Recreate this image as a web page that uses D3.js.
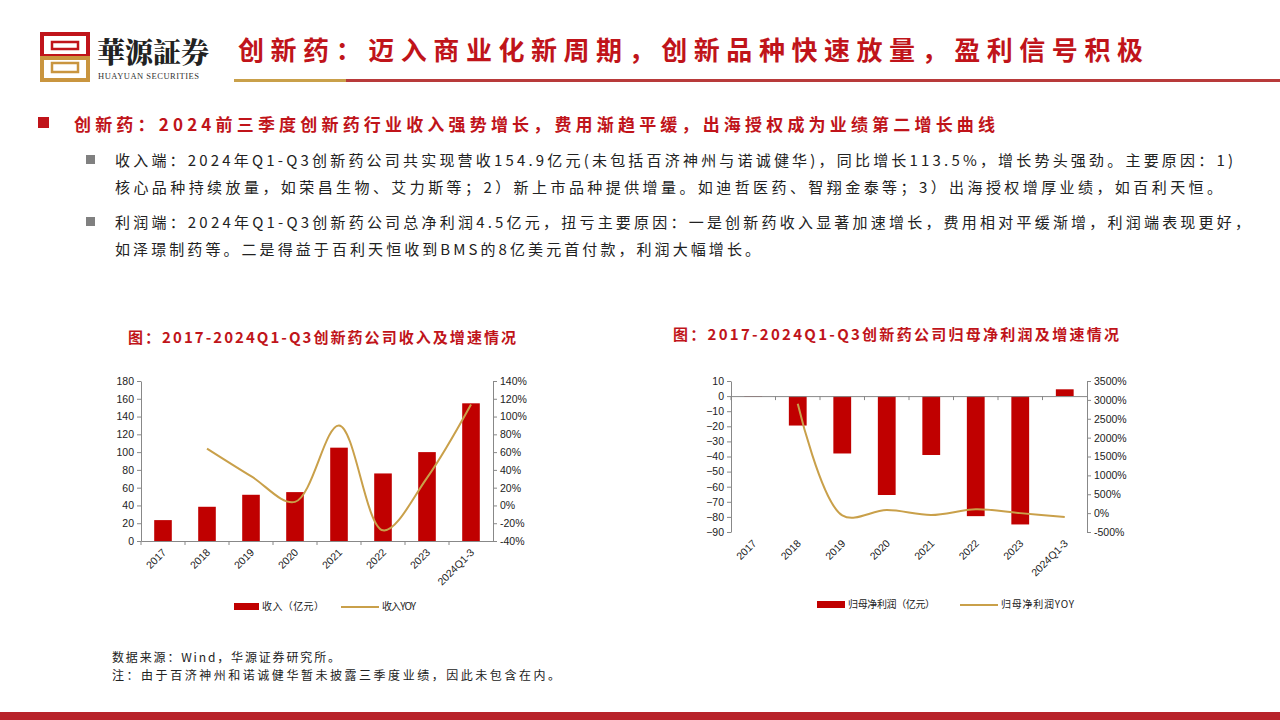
<!DOCTYPE html><html><head><meta charset="utf-8">
<script src="https://cdn.jsdelivr.net/npm/d3@7"></script>
<style>body{margin:0;background:#fff}svg{display:block}</style></head><body>
<svg id="c" width="1280" height="720"></svg>
<script>
const categories=["2017","2018","2019","2020","2021","2022","2023","2024Q1-3"];
const revenue=[23.5,38.5,52,55,105,76,100,154.9];
const revenueYoy=[null,64,33,4,90,-28,31,113.5];
const profit=[-0.5,-19.5,-38,-65.5,-39,-79.5,-85,4.5];
const profitYoy=[null,2900,-60,80,-50,100,0,-100];
const revTicksL=[0,20,40,60,80,100,120,140,160,180];
const revTicksR=[-40,-20,0,20,40,60,80,100,120,140];
const proTicksL=[-90,-80,-70,-60,-50,-40,-30,-20,-10,0,10];
const proTicksR=[-500,0,500,1000,1500,2000,2500,3000,3500];

const RED="#C00000",GOLD="#C9A04A",TR="#C0141A";
const svg=d3.select("#c");
const F="'Noto Sans CJK SC',sans-serif";
function T(x,y,s,size,fill,len,weight){const t=svg.append("text").attr("x",x).attr("y",y).attr("font-family",F).attr("font-size",size).attr("fill",fill).attr("font-weight",weight||400).text(s);if(len)t.attr("textLength",len).attr("lengthAdjust","spacing");return t;}
const lg=svg.append("g");
lg.append("rect").attr("x",42).attr("y",34).attr("width",46).attr("height",22).attr("fill","none").attr("stroke",TR).attr("stroke-width",4);
lg.append("rect").attr("x",42).attr("y",58).attr("width",46).attr("height",22).attr("fill","none").attr("stroke","#C9953F").attr("stroke-width",4);
lg.append("rect").attr("x",52).attr("y",42).attr("width",26).attr("height",7).attr("fill","none").attr("stroke",TR).attr("stroke-width",2.5);
lg.append("rect").attr("x",52).attr("y",63).attr("width",26).attr("height",9).attr("fill","none").attr("stroke","#C9953F").attr("stroke-width",2.5);
svg.append("text").attr("x",97).attr("y",63).attr("font-family","'Noto Serif CJK SC','Noto Sans CJK SC'").attr("font-weight",900).attr("font-size",28).attr("fill","#222").text("華源証券");
svg.append("text").attr("x",98).attr("y",79).attr("font-family","'Liberation Serif',serif").attr("font-size",8.5).attr("fill","#333").attr("letter-spacing",0.5).text("HUAYUAN SECURITIES");
T(238,60,"创新药：迈入商业化新周期，创新品种快速放量，盈利信号积极",26,TR,905,700);
svg.append("rect").attr("x",234).attr("y",79).attr("width",112).attr("height",3).attr("fill","#C9A04A");
svg.append("rect").attr("x",346).attr("y",79).attr("width",934).attr("height",3).attr("fill","#B83A3A");
svg.append("rect").attr("x",0).attr("y",712).attr("width",1280).attr("height",8).attr("fill","#B8232A");
svg.append("rect").attr("x",38).attr("y",117).attr("width",11).attr("height",11).attr("fill",TR);
T(74,131,"创新药：2024前三季度创新药行业收入强势增长，费用渐趋平缓，出海授权成为业绩第二增长曲线",17,TR,921,700);
const paras=[[166,"收入端：2024年Q1-Q3创新药公司共实现营收154.9亿元(未包括百济神州与诺诚健华)，同比增长113.5%，增长势头强劲。主要原因：1)",1118,"核心品种持续放量，如荣昌生物、艾力斯等；2）新上市品种提供增量。如迪哲医药、智翔金泰等；3）出海授权增厚业绩，如百利天恒。",1107],[228,"利润端：2024年Q1-Q3创新药公司总净利润4.5亿元，扭亏主要原因：一是创新药收入显著加速增长，费用相对平缓渐增，利润端表现更好，",1135,"如泽璟制药等。二是得益于百利天恒收到BMS的8亿美元首付款，利润大幅增长。",645]];
paras.forEach(p=>{
 svg.append("rect").attr("x",86).attr("y",p[0]-11).attr("width",9).attr("height",9).attr("fill","#808080");
 T(115,p[0],p[1],15,"#222",p[2]);
 T(115,p[0]+27,p[3],15,"#222",p[4]);
});
T(112,662,"数据来源：Wind，华源证券研究所。",12,"#222",228);
T(112,680,"注：由于百济神州和诺诚健华暂未披露三季度业绩，因此未包含在内。",12,"#222",448);

function chart(o){
 const g=svg.append("g");
 g.append("text").attr("x",o.tx).attr("y",o.ty).attr("font-family",F).attr("font-weight",700).attr("font-size",15).attr("fill",TR).attr("textLength",o.tl).attr("lengthAdjust","spacing").text(o.title);
 const x=d3.scaleBand().domain(categories).range([o.x0,o.x1]).paddingInner(0.6).paddingOuter(0.3);
 const yl=d3.scaleLinear().domain(o.ld).range([o.y1,o.y0]);
 const yr=d3.scaleLinear().domain(o.rd).range([o.y1,o.y0]);
 g.selectAll("rect.b").data(o.bars).join("rect").attr("x",(d,i)=>x(categories[i])).attr("width",x.bandwidth())
  .attr("y",d=>yl(Math.max(0,d))).attr("height",d=>Math.abs(yl(d)-yl(0))).attr("fill",RED);
 const ax=g.append("g").attr("transform",`translate(${o.x0},0)`).call(d3.axisLeft(yl).tickValues(o.lt).tickSize(4).tickSizeOuter(0));
 const ar=g.append("g").attr("transform",`translate(${o.x1},0)`).call(d3.axisRight(yr).tickValues(o.rt).tickFormat(d=>d+"%").tickSize(4).tickSizeOuter(0));
 const ab=g.append("g").attr("transform",`translate(0,${yl(0)})`).call(d3.axisBottom(x).tickSize(4).tickSizeOuter(0).tickFormat(""));
 ab.selectAll(".tick line").attr("transform",`translate(${-x.step()/2},0)`);
 [ax,ar,ab].forEach(a=>{a.selectAll("path,line").attr("stroke","#888");a.selectAll("text").attr("font-family","'Liberation Sans',Arial").attr("font-size",10.5).attr("fill","#222");});
 g.selectAll("text.xl").data(categories).join("text").attr("font-family","'Liberation Sans',Arial").attr("font-size",10.5).attr("fill","#222").attr("text-anchor","end")
  .attr("transform",d=>`translate(${x(d)+x.bandwidth()/2+4},${o.y1+12}) rotate(-45)`).text(d=>d);
 const pts=o.yoy.map((v,i)=>[x(categories[i])+x.bandwidth()/2,v]).filter(d=>d[1]!=null);
 g.append("path").attr("d",d3.line().x(d=>d[0]).y(d=>yr(d[1])).curve(d3.curveCatmullRom.alpha(0.5))(pts)).attr("fill","none").attr("stroke",GOLD).attr("stroke-width",2);
 g.append("rect").attr("x",o.lx).attr("y",o.ly-4).attr("width",o.lw).attr("height",7).attr("fill",RED);
 g.append("text").attr("x",o.lx+o.lw+3).attr("y",o.ly+3).attr("font-family",F).attr("font-size",10).attr("fill","#222").attr("textLength",o.l1w).text(o.l1);
 g.append("line").attr("x1",o.lx2).attr("x2",o.lx2+38).attr("y1",o.ly).attr("y2",o.ly).attr("stroke",GOLD).attr("stroke-width",2);
 g.append("text").attr("x",o.lx2+41).attr("y",o.ly+3).attr("font-family",F).attr("font-size",10).attr("fill","#222").attr("textLength",o.l2w).text(o.l2);
}
chart({title:"图：2017-2024Q1-Q3创新药公司收入及增速情况",tx:128,tl:388,ty:343,x0:141,x1:493,y0:381,y1:541,ld:[0,180],rd:[-40,140],lt:revTicksL,rt:revTicksR,bars:revenue,yoy:revenueYoy,lx:234,ly:607,lw:25,l1:"收入（亿元）",l1w:62,lx2:341,l2:"收入YOY",l2w:34});
chart({title:"图：2017-2024Q1-Q3创新药公司归母净利润及增速情况",tx:673,tl:446,ty:340,x0:731,x1:1087,y0:381,y1:532,ld:[-90,10],rd:[-500,3500],lt:proTicksL,rt:proTicksR,bars:profit,yoy:profitYoy,lx:817,ly:605,lw:28,l1:"归母净利润（亿元）",l1w:87,lx2:960,l2:"归母净利润YOY",l2w:73});
</script></body></html>
